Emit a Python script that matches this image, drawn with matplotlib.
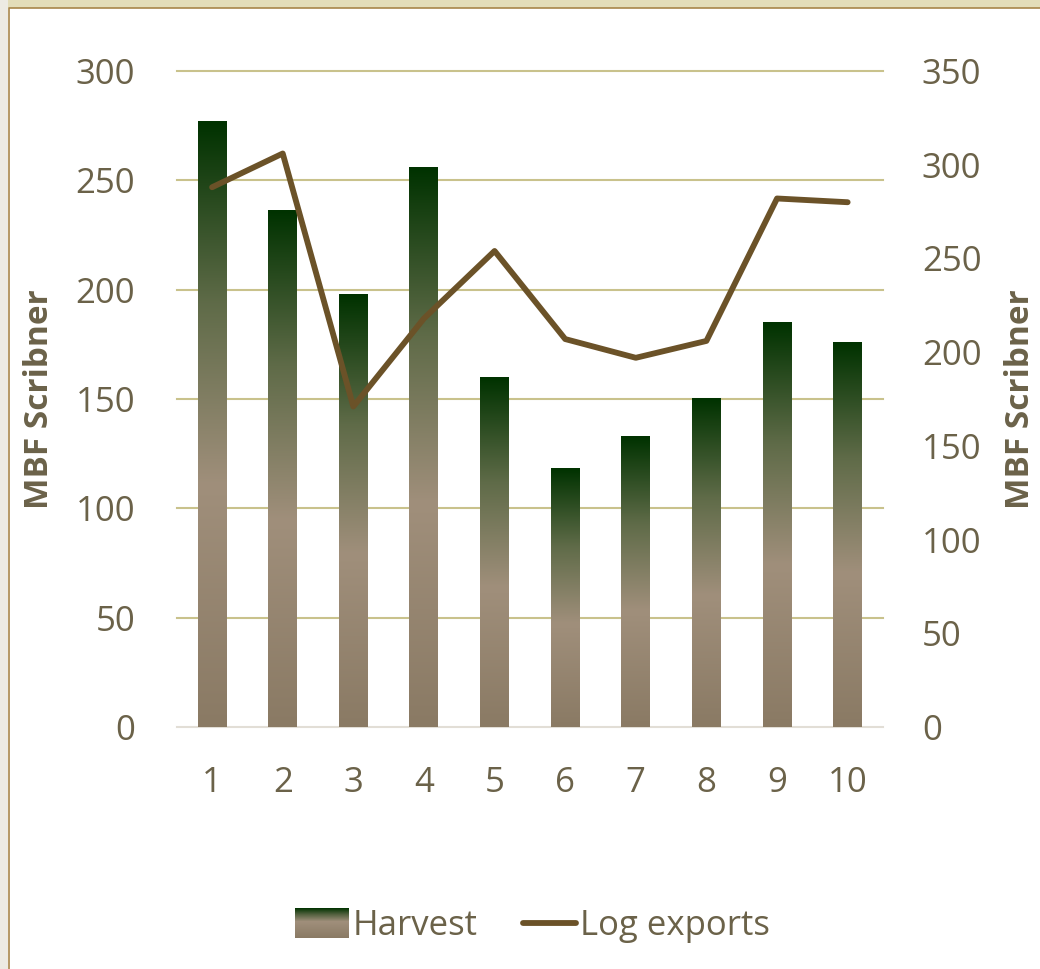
import numpy as np
import matplotlib.pyplot as plt
from matplotlib.colors import LinearSegmentedColormap
from matplotlib.legend_handler import HandlerBase
from matplotlib.image import BboxImage
from matplotlib.transforms import Bbox, TransformedBbox
from matplotlib.patches import Rectangle
from matplotlib.lines import Line2D

plt.rcParams['font.family'] = ['Open Sans', 'DejaVu Sans']

# data
years = [1, 2, 3, 4, 5, 6, 7, 8, 9, 10]
harvest = [277, 236, 198, 256, 160, 118, 133, 150, 185, 176]
log_exports = [288, 306, 171, 218, 254, 207, 197, 206, 282, 280]

text_col = '#6b6249'
grid_col = '#c9c28c'
line_col = '#6b5228'

# top = dark green, bottom = tan
cmap = LinearSegmentedColormap.from_list(
    'harv', [(0.0, '#8a7a64'), (0.4, '#a08f7b'), (0.7, '#5f6b48'), (1.0, '#003200')])
leg_cmap = LinearSegmentedColormap.from_list(
    'harv_leg', [(0.0, '#8a7a64'), (0.55, '#a08f7b'), (0.8, '#4f5f3c'), (1.0, '#003200')])
grad = np.linspace(1, 0, 256).reshape(-1, 1)


class GradientHandler(HandlerBase):
    def create_artists(self, legend, orig_handle, xdescent, ydescent,
                       width, height, fontsize, trans):
        bb = Bbox.from_bounds(-xdescent, -ydescent - height * 0.1, width, height * 1.2)
        img = BboxImage(TransformedBbox(bb, trans), cmap=leg_cmap,
                        interpolation='bilinear')
        img.set_data(grad)
        return [img]


fig = plt.figure(figsize=(10.4, 9.69), dpi=100)
ax = fig.add_axes([0.170, 0.2497, 0.679, 0.677])
ax2 = ax.twinx()

x = np.arange(len(years))
w = 0.41
for xi, h in zip(x, harvest):
    ax.imshow(grad, cmap=cmap, aspect='auto', interpolation='bilinear',
              extent=[xi - w / 2, xi + w / 2, 0, h], zorder=2)

ax.set_xlim(-0.5, len(years) - 0.5)
ax.set_ylim(0, 300)
ax.set_yticks(np.arange(0, 301, 50))
ax.set_xticks(x)
ax.set_xticklabels([str(y) for y in years])
for yv in np.arange(50, 301, 50):
    ax.axhline(yv, color=grid_col, linewidth=1.5, zorder=0, clip_on=False)
ax.axhline(0, color='#e2ded6', linewidth=1.5, zorder=1, clip_on=False)

ax2.plot(x, log_exports, color=line_col, linewidth=4.2,
         solid_capstyle='round', solid_joinstyle='round', zorder=3)
ax2.set_ylim(0, 350)
ax2.set_yticks(np.arange(0, 351, 50))

for a in (ax, ax2):
    for s in a.spines.values():
        s.set_visible(False)
    a.tick_params(length=0, labelsize=25, colors=text_col)
ax.tick_params(axis='y', pad=30)
ax.tick_params(axis='x', pad=28)
ax2.tick_params(axis='y', pad=28)

ax.set_ylabel('MBF Scribner', fontsize=24, fontweight='bold',
              color=text_col, labelpad=14)
ax2.set_ylabel('MBF Scribner', fontsize=24, fontweight='bold',
               color=text_col, labelpad=16)

handles = [Rectangle((0, 0), 1, 1), Line2D([], [], color=line_col, linewidth=4.2,
                                           solid_capstyle='round')]
leg = fig.legend(handles, ['Harvest', 'Log exports'], loc='center',
                 bbox_to_anchor=(0.512, 0.044), ncol=2, frameon=False,
                 fontsize=25, labelcolor=text_col, handlelength=1.55,
                 handletextpad=0.1, columnspacing=1.3,
                 handler_map={Rectangle: GradientHandler()})

# frame bits around the chart
fig.patches.append(Rectangle((0, 1 - 8 / 969), 1, 8 / 969, transform=fig.transFigure,
                             facecolor='#e3ddb9', edgecolor='none'))
fig.patches.append(Rectangle((0, 0), 8 / 1040, 1, transform=fig.transFigure,
                             facecolor='#edebe3', edgecolor='none'))
fig.lines.append(Line2D([8.5 / 1040, 8.5 / 1040, 1], [0, 1 - 8 / 969, 1 - 8 / 969],
                        transform=fig.transFigure, color='#a8864a', linewidth=1.2))

fig.savefig('out.png', dpi=100)
